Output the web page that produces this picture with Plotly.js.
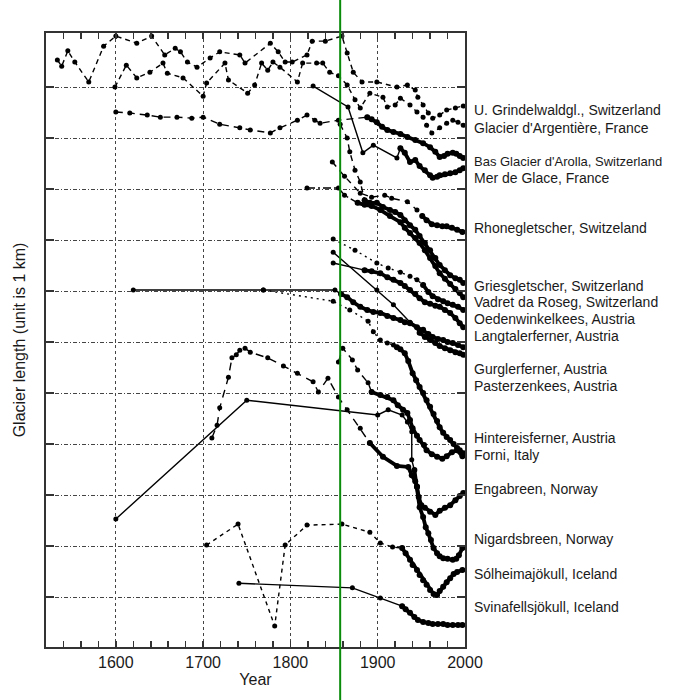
<!DOCTYPE html>
<html><head><meta charset="utf-8">
<script src="https://cdn.plot.ly/plotly-3.0.1.min.js"></script>
<style>html,body{margin:0;padding:0;background:#fff}#chart{width:673px;height:700px}</style>
</head><body><div id="chart"></div>
<script>
// ---- axes ----
const xRange = [1520, 2000];
const yRange = [0.02, 12.06];
const xTickVals = [1600, 1700, 1800, 1900, 2000];
const yTickVals = [1, 2, 3, 4, 5, 6, 7, 8, 9, 10, 11];
const greenYear = 1857;

// ---- labels ----
const labelNames = ["U. Grindelwaldgl., Switzerland", "Glacier d'Argentière, France", "Bas Glacier d'Arolla, Switzerland", "Mer de Glace, France", "Rhonegletscher, Switzeland", "Griesgletscher, Switzerland", "Vadret da Roseg, Switzerland", "Oedenwinkelkees, Austria", "Langtalerferner, Austria", "Gurglerferner, Austria", "Pasterzenkees, Austria", "Hintereisferner, Austria", "Forni, Italy", "Engabreen, Norway", "Nigardsbreen, Norway", "Sólheimajökull, Iceland", "Svinafellsjökull, Iceland"];
const labelY = [10.55, 10.20, 9.55, 9.22, 8.24, 7.10, 6.78, 6.45, 6.12, 5.47, 5.14, 4.12, 3.78, 3.12, 2.14, 1.45, 0.80];
const labelSize = [14, 14, 13, 14, 14, 14, 14, 14, 14, 14, 14, 14, 14, 14, 14, 14, 14];

// ---- series (year, length) ----
const grindelwaldYear = [1533,1538,1545,1553,1569,1586,1600,1624,1641,1656,1668,1674,1682,1693,1708,1719,1742,1748,1777,1786,1794,1802,1819,1825,1840,1859,1865,1872,1882,1899,1922,1934,1943,1946,1952,1958,1963,1971,1979,1989,1998];
const grindelwaldLen  = [11.53,11.41,11.71,11.49,11.10,11.80,12.00,11.86,12.00,11.63,11.76,11.69,11.49,11.39,11.57,11.69,11.63,11.47,11.86,11.69,11.49,11.49,11.63,11.90,11.90,12.00,11.67,11.29,11.10,11.10,11.00,11.04,10.94,10.80,10.65,10.49,10.39,10.45,10.55,10.59,10.63];

const argentiereYear = [1599,1612,1624,1639,1654,1659,1677,1700,1704,1725,1729,1751,1759,1767,1774,1780,1788,1808,1814,1830,1837,1845,1855,1865,1874,1880,1891,1906,1911,1920,1926,1937,1945,1952,1956,1962,1971,1979,1986,1992,1998];
const argentiereLen  = [11.00,11.43,11.18,11.29,11.47,11.27,11.18,10.82,11.08,11.47,11.14,10.88,11.04,11.47,11.33,11.49,11.39,11.10,11.47,11.47,11.47,11.29,11.22,11.04,10.75,10.59,10.88,10.80,10.61,10.65,10.78,10.65,10.51,10.41,10.25,10.10,10.20,10.29,10.35,10.31,10.25];

const arollaYear = [1600,1616,1636,1651,1670,1687,1700,1719,1742,1754,1777,1788,1808,1819,1828,1834,1855,1888,1893,1899,1905,1911,1918,1926,1934,1943,1952,1960,1966,1971,1976,1980,1986,1990,1994,1998];
const arollaLen  = [10.51,10.49,10.45,10.41,10.41,10.39,10.41,10.27,10.20,10.16,10.10,10.20,10.35,10.45,10.35,10.29,10.35,10.41,10.37,10.31,10.22,10.16,10.12,10.08,10.02,9.96,9.90,9.82,9.73,9.63,9.65,9.69,9.71,9.69,9.65,9.61];

const merYear = [1826,1866,1883,1895,1922,1926,1931,1937,1943,1948,1954,1960,1963,1968,1971,1977,1983,1989,1994,1998];
const merLen  = [11.02,10.61,9.71,9.86,9.61,9.80,9.71,9.53,9.57,9.45,9.37,9.27,9.22,9.24,9.27,9.29,9.31,9.33,9.37,9.41];

const rhoneYear = [1848,1862,1880,1893,1908,1916,1934,1945,1951,1956,1962,1968,1974,1979,1985,1991,1997];
const rhoneLen  = [9.53,9.25,8.92,8.84,8.88,8.82,8.75,8.59,8.47,8.39,8.31,8.29,8.27,8.27,8.24,8.20,8.16];

const griesYear = [1857,1865,1868,1874,1880,1885,1891,1899,1906,1914,1920,1926,1931,1937,1943,1948,1954,1960,1966,1971,1977,1983,1989,1994,1998];
const griesLen  = [10.27,10.00,9.73,9.37,9.14,8.78,8.73,8.73,8.65,8.59,8.55,8.49,8.39,8.29,8.20,8.08,7.94,7.80,7.65,7.51,7.41,7.31,7.25,7.22,7.16];

const rosegYear = [1819,1855,1862,1877,1885,1893,1903,1914,1926,1931,1937,1943,1948,1954,1960,1966,1971,1977,1983,1989,1994,1998];
const rosegLen  = [9.02,9.02,8.88,8.73,8.69,8.67,8.59,8.47,8.35,8.24,8.14,8.04,7.94,7.80,7.65,7.49,7.35,7.24,7.14,7.04,6.96,6.88];

const oedenYear = [1849,1874,1899,1912,1926,1937,1945,1952,1958,1963,1969,1975,1980,1986,1992,1998];
const oedenLen  = [8.02,7.80,7.55,7.45,7.37,7.29,7.22,7.12,6.98,6.90,6.84,6.80,6.76,6.73,6.69,6.63];

const langtalYear = [1849,1885,1893,1903,1911,1918,1926,1931,1937,1943,1948,1954,1960,1966,1971,1977,1983,1989,1994,1998];
const langtalLen  = [7.55,7.41,7.39,7.35,7.27,7.22,7.16,7.10,7.02,6.94,6.86,6.78,6.75,6.71,6.69,6.63,6.57,6.47,6.37,6.29];

const gurglYear = [1620,1769,1851,1858,1865,1872,1880,1888,1895,1903,1911,1918,1926,1931,1937,1945,1952,1958,1963,1969,1975,1980,1986,1992,1998];
const gurglLen  = [7.02,7.02,7.02,6.94,6.88,6.78,6.69,6.63,6.59,6.57,6.51,6.47,6.43,6.39,6.37,6.29,6.24,6.16,6.10,6.06,6.04,6.00,5.98,5.94,5.90];

const pasterzeYear = [1849,1899,1918,1937,1948,1954,1960,1966,1971,1977,1983,1989,1994,1998];
const pasterzeLen  = [7.76,7.02,6.73,6.39,6.18,6.10,6.04,5.98,5.92,5.88,5.84,5.80,5.78,5.75];

const hintereisYear = [1769,1849,1868,1889,1895,1903,1911,1918,1922,1926,1931,1935,1940,1944,1948,1952,1956,1960,1964,1968,1971,1975,1979,1983,1987,1991,1994,1998];
const hintereisLen  = [7.02,6.80,6.63,6.41,6.20,6.04,5.98,5.94,5.90,5.86,5.78,5.63,5.39,5.25,5.12,5.00,4.86,4.73,4.59,4.45,4.33,4.22,4.14,4.08,4.00,3.92,3.88,3.82];

const forniYear = [1855,1860,1871,1877,1889,1893,1903,1911,1918,1923,1929,1934,1937,1940,1945,1948,1953,1956,1962,1968,1974,1979,1985,1991,1997];
const forniLen  = [5.61,5.88,5.65,5.45,5.20,5.02,4.96,4.92,4.86,4.76,4.67,4.61,4.47,4.31,4.16,4.08,3.98,3.88,3.80,3.75,3.71,3.76,3.84,3.88,3.76];

const engaYear = [1710,1716,1719,1729,1733,1738,1742,1748,1754,1774,1792,1808,1826,1832,1843,1855,1865,1880,1891,1906,1922,1935,1939,1943,1945,1947,1950,1954,1960,1966,1971,1977,1983,1989,1994,1998];
const engaLen  = [4.12,4.37,4.71,5.31,5.69,5.75,5.84,5.88,5.80,5.69,5.53,5.39,5.22,5.02,5.29,4.92,4.67,4.31,4.02,3.75,3.57,3.55,3.39,3.27,3.16,2.96,2.80,2.75,2.67,2.61,2.69,2.75,2.80,2.90,2.98,3.04];

const nigardYear = [1600,1750,1900,1912,1928,1934,1939,1939,1942,1945,1948,1952,1955,1958,1961,1964,1968,1971,1975,1980,1986,1990,1993,1997];
const nigardLen  = [2.53,4.86,4.57,4.67,4.57,4.43,4.24,3.69,3.49,3.16,2.76,2.57,2.37,2.25,2.12,1.96,1.86,1.80,1.76,1.75,1.73,1.75,1.82,1.96];

const solheimYear = [1704,1740,1782,1794,1819,1859,1891,1903,1917,1928,1932,1937,1940,1945,1948,1952,1956,1960,1964,1968,1971,1975,1979,1983,1987,1991,1997];
const solheimLen  = [2.02,2.43,0.43,2.02,2.41,2.43,2.27,2.06,1.98,1.96,1.86,1.73,1.63,1.53,1.43,1.33,1.24,1.14,1.06,1.04,1.12,1.20,1.29,1.37,1.45,1.49,1.53];

const svinaYear = [1741,1871,1903,1928,1932,1937,1942,1946,1952,1958,1963,1969,1975,1980,1986,1992,1997];
const svinaLen  = [1.27,1.18,0.98,0.82,0.76,0.69,0.61,0.55,0.51,0.49,0.47,0.47,0.47,0.45,0.45,0.45,0.45];

// ---- styles ----
const series = [
  {name: labelNames[0],  x: grindelwaldYear, y: grindelwaldLen, dash: '5px,4px', thickFrom: null},
  {name: labelNames[1],  x: argentiereYear,  y: argentiereLen,  dash: '5px,4px', thickFrom: null},
  {name: labelNames[2],  x: arollaYear,      y: arollaLen,      dash: '7px,5px', thickFrom: 1888},
  {name: labelNames[3],  x: merYear,         y: merLen,         dash: 'solid',   thickFrom: 1926},
  {name: labelNames[4],  x: rhoneYear,       y: rhoneLen,       dash: '6px,5px', thickFrom: 1951},
  {name: labelNames[5],  x: griesYear,       y: griesLen,       dash: '6px,5px', thickFrom: 1885},
  {name: labelNames[6],  x: rosegYear,       y: rosegLen,       dash: '8px,3px,2px,3px', thickFrom: 1877},
  {name: labelNames[7],  x: oedenYear,       y: oedenLen,       dash: '2px,4px', thickFrom: 1952},
  {name: labelNames[8],  x: langtalYear,     y: langtalLen,     dash: 'solid',   thickFrom: 1885},
  {name: labelNames[9],  x: gurglYear,       y: gurglLen,       dash: 'solid',   thickFrom: 1858},
  {name: labelNames[10], x: pasterzeYear,    y: pasterzeLen,    dash: 'solid',   thickFrom: 1948},
  {name: labelNames[11], x: hintereisYear,   y: hintereisLen,   dash: '2px,4px', thickFrom: 1920},
  {name: labelNames[12], x: forniYear,       y: forniLen,       dash: '7px,5px', thickFrom: 1893},
  {name: labelNames[13], x: engaYear,        y: engaLen,        dash: '8px,6px', thickFrom: 1891},
  {name: labelNames[14], x: nigardYear,      y: nigardLen,      dash: 'solid',   thickFrom: 1942},
  {name: labelNames[15], x: solheimYear,     y: solheimLen,     dash: '4px,4px', thickFrom: 1928},
  {name: labelNames[16], x: svinaYear,       y: svinaLen,       dash: 'solid',   thickFrom: 1928}
];

const traces = [];
series.forEach(s => {
  const early = {x: [], y: []}, late = {x: [], y: []};
  s.x.forEach((yr, i) => {
    if (s.thickFrom === null || yr < s.thickFrom) { early.x.push(yr); early.y.push(s.y[i]); }
    else { late.x.push(yr); late.y.push(s.y[i]); }
  });
  if (late.x.length && early.x.length) { early.x.push(late.x[0]); early.y.push(late.y[0]); }
  if (early.x.length) traces.push({
    type: 'scatter', mode: 'lines+markers', name: s.name, x: early.x, y: early.y,
    line: {color: '#000', width: 1.4, dash: s.dash}, marker: {color: '#000', size: 5},
    showlegend: false, hoverinfo: 'skip'
  });
  if (late.x.length) traces.push({
    type: 'scatter', mode: 'lines+markers', name: s.name, x: late.x, y: late.y,
    line: {color: '#000', width: 3.8}, marker: {color: '#000', size: 6},
    showlegend: false, hoverinfo: 'skip'
  });
});

const greenX = (greenYear - xRange[0]) / (xRange[1] - xRange[0]);

const annotations = labelNames.map((t, i) => ({
  text: t, xref: 'paper', yref: 'y', x: 1.017, y: labelY[i],
  xanchor: 'left', yanchor: 'middle', showarrow: false,
  font: {size: labelSize[i], color: '#1a1a1a'}
}));

const layout = {
  width: 673, height: 700,
  margin: {l: 46, r: 208, t: 33, b: 53},
  paper_bgcolor: '#fff', plot_bgcolor: '#fff',
  showlegend: false,
  font: {family: 'Liberation Sans, Arial, sans-serif', color: '#1a1a1a', size: 16},
  xaxis: {
    range: xRange, tickvals: xTickVals, ticks: 'inside', ticklen: 6, tickwidth: 1.5, tickcolor: '#333',
    showline: true, linecolor: '#333', linewidth: 2, mirror: 'ticks',
    showgrid: true, gridcolor: '#444', griddash: 'dot', gridwidth: 1.2, zeroline: false,
    minor: {dtick: 20, tick0: 1520, ticks: 'inside', ticklen: 6, tickwidth: 1.5, tickcolor: '#333', showgrid: false},
    tickfont: {size: 16, color: '#1a1a1a'},
    title: {text: 'Year', font: {size: 16, color: '#1a1a1a'}, standoff: 4}
  },
  yaxis: {
    range: yRange, tickvals: yTickVals, showticklabels: false, ticks: 'inside', ticklen: 8, tickwidth: 2, tickcolor: '#333',
    showline: true, linecolor: '#333', linewidth: 2, mirror: 'ticks',
    showgrid: true, gridcolor: '#444', griddash: '4px,2px,1px,2px', gridwidth: 1, zeroline: false,
    title: {text: 'Glacier length (unit is 1 km)', font: {size: 16, color: '#1a1a1a'}, standoff: 14}
  },
  shapes: [{
    type: 'line', xref: 'paper', yref: 'paper', x0: greenX, x1: greenX, y0: -0.1, y1: 1.1,
    line: {color: 'rgb(10,140,10)', width: 2}, layer: 'above'
  }],
  annotations: annotations
};

Plotly.newPlot('chart', traces, layout, {displayModeBar: false, staticPlot: true});
</script>
</body></html>
